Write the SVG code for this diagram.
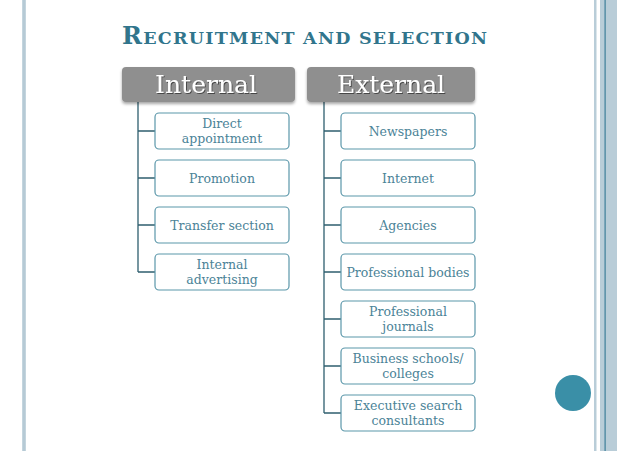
<svg xmlns="http://www.w3.org/2000/svg" width="638" height="451" viewBox="0 0 638 451">
<defs>
<filter id="sh" x="-10%" y="-20%" width="120%" height="150%">
<feDropShadow dx="0" dy="2" stdDeviation="1.5" flood-color="#000" flood-opacity="0.35"/>
</filter>
<filter id="ts" x="-10%" y="-20%" width="120%" height="150%">
<feDropShadow dx="1" dy="1" stdDeviation="0.6" flood-color="#000" flood-opacity="0.5"/>
</filter>
</defs>
<style>
.hdr{fill:#8f8f8f;filter:url(#sh)}
.htx{font-family:"DejaVu Serif","Liberation Serif",serif;font-size:25px;fill:#ffffff;text-anchor:middle;filter:url(#ts)}
.box{fill:#ffffff;stroke:#5b97aa;stroke-width:1.2}
.btx{font-family:"DejaVu Serif","Liberation Serif",serif;font-size:12.5px;fill:#4b8397;text-anchor:middle}
.con{fill:none;stroke:#2f5f6f;stroke-width:1.3}
.title{font-family:"DejaVu Serif","Liberation Serif",serif;font-weight:bold;fill:#31758c}
</style>
<rect width="638" height="451" fill="#ffffff"/>
<!-- page decorations -->
<rect x="22" y="0" width="4" height="451" fill="#c4d5de"/>
<rect x="23.5" y="0" width="1" height="451" fill="#a7bfcc"/>
<rect x="594" y="0" width="2.5" height="451" fill="#b9cdd8"/>
<rect x="600" y="0" width="17" height="451" fill="#b9cdd8"/>
<rect x="604.5" y="0" width="1.2" height="451" fill="#3e7f99"/>
<circle cx="573" cy="393" r="18" fill="#3a8fa7"/>
<!-- title -->
<text class="title" x="122" y="44" textLength="365" lengthAdjust="spacing"><tspan font-size="24">R</tspan><tspan font-size="17.5">ECRUITMENT AND SELECTION</tspan></text>
<!-- connectors -->
<g id="connectors">
<path class="con" d="M138 102 V272 M138 131 H155 M138 178 H155 M138 225 H155 M138 272 H155"/>
<path class="con" d="M324 102 V413 M324 131 H341 M324 178 H341 M324 225 H341 M324 272 H341 M324 319 H341 M324 366 H341 M324 413 H341"/>
</g>
<g id="internal"><rect class="hdr" x="122" y="67" width="173" height="35" rx="4"/><text class="htx" x="206" y="93">Internal</text></g>
<g id="external"><rect class="hdr" x="307" y="67" width="168" height="35" rx="4"/><text class="htx" x="391" y="93">External</text></g>
<g id="direct"><rect class="box" x="155" y="113" width="134" height="36" rx="4"/><text class="btx" x="222" y="128">Direct</text><text class="btx" x="222" y="143">appointment</text></g>
<g id="promotion"><rect class="box" x="155" y="160" width="134" height="36" rx="4"/><text class="btx" x="222" y="183">Promotion</text></g>
<g id="transfer"><rect class="box" x="155" y="207" width="134" height="36" rx="4"/><text class="btx" x="222" y="230">Transfer section</text></g>
<g id="intadv"><rect class="box" x="155" y="254" width="134" height="36" rx="4"/><text class="btx" x="222" y="269">Internal</text><text class="btx" x="222" y="284">advertising</text></g>
<g id="newspapers"><rect class="box" x="341" y="113" width="134" height="36" rx="4"/><text class="btx" x="408" y="136">Newspapers</text></g>
<g id="internet"><rect class="box" x="341" y="160" width="134" height="36" rx="4"/><text class="btx" x="408" y="183">Internet</text></g>
<g id="agencies"><rect class="box" x="341" y="207" width="134" height="36" rx="4"/><text class="btx" x="408" y="230">Agencies</text></g>
<g id="profbodies"><rect class="box" x="341" y="254" width="134" height="36" rx="4"/><text class="btx" x="408" y="277">Professional bodies</text></g>
<g id="profjournals"><rect class="box" x="341" y="301" width="134" height="36" rx="4"/><text class="btx" x="408" y="316">Professional</text><text class="btx" x="408" y="331">journals</text></g>
<g id="business"><rect class="box" x="341" y="348" width="134" height="36" rx="4"/><text class="btx" x="408" y="363">Business schools/</text><text class="btx" x="408" y="378">colleges</text></g>
<g id="executive"><rect class="box" x="341" y="395" width="134" height="36" rx="4"/><text class="btx" x="408" y="410">Executive search</text><text class="btx" x="408" y="425">consultants</text></g>
</svg>
